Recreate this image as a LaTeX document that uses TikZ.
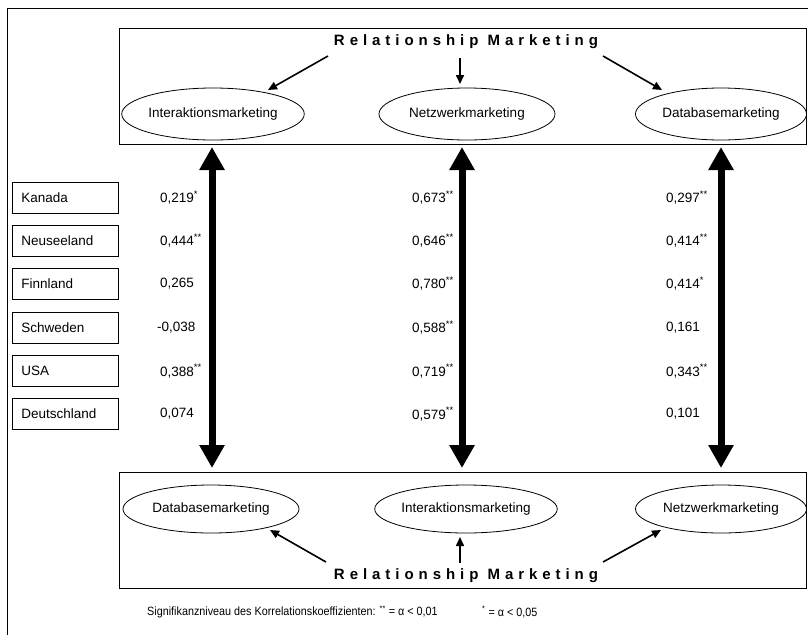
\documentclass[tikz,border=0pt]{standalone}
\usepackage{fontspec}
\setmainfont{Liberation Sans}
\newfontfamily\narrowfont[FakeStretch=0.9]{Liberation Sans}
\usetikzlibrary{arrows.meta,shapes.geometric}
\begin{document}
\begin{tikzpicture}[x=1pt,y=-1pt,
  frame/.style={draw, line width=0.8pt},
  ell/.style={draw, ellipse, line width=0.8pt, minimum width=176pt, minimum height=52pt, inner sep=0pt, font=\fontsize{13.5}{15}\selectfont},
  country/.style={draw, line width=0.8pt, minimum width=106pt, minimum height=31pt, text width=88pt, inner xsep=9pt, inner ysep=0pt, align=left, anchor=west, font=\fontsize{13.5}{15}\selectfont},
  val/.style={anchor=west, inner sep=0pt, font=\fontsize{13.5}{15}\selectfont},
  title/.style={inner sep=0pt, font=\fontsize{15}{17}\selectfont\bfseries\addfontfeature{LetterSpace=33}},
  thin/.style={line width=1.6pt, -{Triangle[length=9pt,width=8pt]}},
  thick/.style={line width=7pt, {Triangle[length=23pt,width=24pt]}-{Triangle[length=23pt,width=24pt]}},
  note/.style={anchor=west, inner sep=0pt, font=\narrowfont\fontsize{12}{14}\selectfont}
]
\useasboundingbox (0,0) rectangle (808,635);
% outer frame (open at right and bottom)
\draw[line width=0.8pt] (808,8) -- (7,8) -- (7,635);
% boxes
\node[frame, anchor=north west, minimum width=687pt, minimum height=116pt, inner sep=0pt] (topbox) at (119,28) {};
\node[frame, anchor=north west, minimum width=687pt, minimum height=116pt, inner sep=0pt] (botbox) at (119,472) {};
% titles
\node[title] (ttop) at (466,42) {Relationship Marketing};
\node[title] (tbot) at (466,576) {Relationship Marketing};
% top ellipses
\node[ell] (e1) at (213,114) {Interaktionsmarketing};
\node[ell] (e2) at (467,114) {Netzwerkmarketing};
\node[ell, minimum width=171pt] (e3) at (721,114) {Databasemarketing};
% bottom ellipses
\node[ell, minimum height=48pt] (f1) at (211,509) {Databasemarketing};
\node[ell, minimum height=48pt] (f2) at (466,509) {Interaktionsmarketing};
\node[ell, minimum width=171pt, minimum height=48pt] (f3) at (721,509) {Netzwerkmarketing};
% thin arrows top
\coordinate (s1) at (328,56); \coordinate (d1) at (268,90);
\coordinate (s2) at (460,58); \coordinate (d2) at (460,84);
\coordinate (s3) at (603,56); \coordinate (d3) at (662,90);
\draw[thin] (s1) -- (d1);
\draw[thin] (s2) -- (d2);
\draw[thin] (s3) -- (d3);
% thin arrows bottom
\coordinate (u1) at (326,562); \coordinate (v1) at (270,530);
\coordinate (u2) at (460,563); \coordinate (v2) at (460,537);
\coordinate (u3) at (603,562); \coordinate (v3) at (661,530);
\draw[thin] (u1) -- (v1);
\draw[thin] (u2) -- (v2);
\draw[thin] (u3) -- (v3);
% thick double arrows
\coordinate (a1) at (212,147); \coordinate (b1) at (212,468);
\coordinate (a2) at (462,147); \coordinate (b2) at (462,468);
\coordinate (a3) at (721,147); \coordinate (b3) at (721,468);
\draw[thick] (a1) -- (b1);
\draw[thick] (a2) -- (b2);
\draw[thick] (a3) -- (b3);
% countries
\node[country] (c1) at (12,197.5) {Kanada};
\node[country] (c2) at (12,240.5) {Neuseeland};
\node[country] (c3) at (12,283.5) {Finnland};
\node[country] (c4) at (12,327.5) {Schweden};
\node[country] (c5) at (12,371) {USA};
\node[country] (c6) at (12,414) {Deutschland};
% values column 1
\node[val] (k1) at (160,197.5) {0,219\textsuperscript{*}};
\node[val] (k2) at (160,240.5) {0,444\textsuperscript{**}};
\node[val] (k3) at (160,283.5) {0,265};
\node[val] (k4) at (157,327.5) {-0,038};
\node[val] (k5) at (160,371) {0,388\textsuperscript{**}};
\node[val] (k6) at (160,414) {0,074};
% values column 2
\node[val] (m1) at (412,197.5) {0,673\textsuperscript{**}};
\node[val] (m2) at (412,240.5) {0,646\textsuperscript{**}};
\node[val] (m3) at (412,283.5) {0,780\textsuperscript{**}};
\node[val] (m4) at (412,327.5) {0,588\textsuperscript{**}};
\node[val] (m5) at (412,371) {0,719\textsuperscript{**}};
\node[val] (m6) at (412,414) {0,579\textsuperscript{**}};
% values column 3
\node[val] (n1) at (666,197.5) {0,297\textsuperscript{**}};
\node[val] (n2) at (666,240.5) {0,414\textsuperscript{**}};
\node[val] (n3) at (666,283.5) {0,414\textsuperscript{*}};
\node[val] (n4) at (666,327.5) {0,161};
\node[val] (n5) at (666,371) {0,343\textsuperscript{**}};
\node[val] (n6) at (666,414) {0,101};
% footnote
\node[note] (fn1) at (147,612) {Signifikanzniveau des Korrelationskoeffizienten: \textsuperscript{**} = α < 0,01};
\node[note] (fn2) at (482,612) {\textsuperscript{*} = α < 0,05};
\end{tikzpicture}
\end{document}
